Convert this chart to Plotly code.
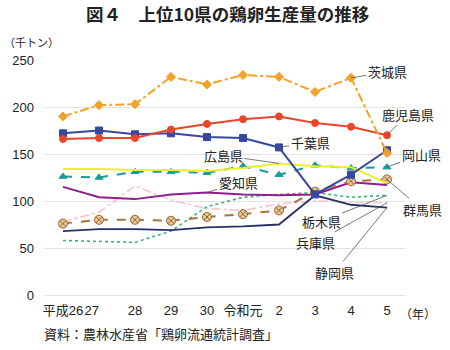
import plotly.graph_objects as go

years = ["平成26", "27", "28", "29", "30", "令和元", "2", "3", "4", "5"]

ibaraki   = [190, 202, 203, 232, 224, 234, 232, 216, 231, 151]
kagoshima = [166, 167, 167, 176, 182, 187, 190, 183, 179, 170]
chiba     = [172, 175, 171, 172, 168, 167, 157, 107, 128, 154]
okayama   = [126, 125, 131, 131, 130, 137, 128, 138, 135, 136]
hiroshima = [134, 134, 133, 133, 132, 135, 140, 137, 136, 119]
aichi     = [115, 104, 102, 107, 109, 107, 106, 107, 120, 117]
gunma     = [76, 80, 80, 79, 83, 86, 90, 110, 121, 123]
tochigi   = [58, 57, 56, 68, 94, 104, 107, 109, 104, 106]
hyogo     = [78, 88, 116, 101, 92, 90, 97, 100, 99, 98]
shizuoka  = [68, 70, 70, 69, 72, 73, 75, 106, 96, 93]

tick_text = ["平成26", "27\u00a0\u00a0\u00a0\u00a0", "28", "29", "30",
             "令和元", "2", "3", "4", "5"]

FONT = "Liberation Sans, Noto Sans CJK JP, sans-serif"
JFONT = "Noto Sans CJK JP, sans-serif"

fig = go.Figure()

def add(name, vals, color, dash="solid", width=2, symbol=None, msize=7,
        mfill=None, mline=None):
    mode = "lines+markers" if symbol else "lines"
    marker = {}
    if symbol:
        marker = dict(symbol=symbol, size=msize, color=mfill or color,
                      line=dict(color=mline or color, width=1))
    fig.add_trace(go.Scatter(x=years, y=vals, name=name, mode=mode,
                             line=dict(color=color, dash=dash, width=width),
                             marker=marker))

add("兵庫県", hyogo, "#F6C4CC", dash="dashdot", width=1.6)
add("栃木県", tochigi, "#3CB371", dash="dot", width=1.6)
add("静岡県", shizuoka, "#27306A", width=1.8)
add("愛知県", aichi, "#8E1E8E", width=2)
add("群馬県", gunma, "#A8743C", dash="dash", width=2, symbol="circle-x",
    msize=9, mfill="#E6C79A", mline="#9A6630")
add("岡山県", okayama, "#1C9A9A", dash="dash", width=2, symbol="triangle-up", msize=7)
add("広島県", hiroshima, "#EEEE2A", width=2)
add("千葉県", chiba, "#3848A0", width=2, symbol="square", msize=7)
add("鹿児島県", kagoshima, "#E8462A", width=2, symbol="circle", msize=7)
add("茨城県", ibaraki, "#F2A22A", dash="dashdot", width=2, symbol="diamond", msize=7)

# leader-line labels: (text, index, value, dx px, dy px)
labels = [
    ("茨城県", 8, ibaraki[8], 36, -6),
    ("鹿児島県", 9, kagoshima[9], 21, -21),
    ("千葉県", 6, chiba[6], 31, -5),
    ("広島県", 6, hiroshima[6], -56, -8),
    ("愛知県", 4, aichi[4], 31, -10),
    ("岡山県", 9, okayama[9], 34, -13),
    ("群馬県", 9, gunma[9], 35, 30),
    ("栃木県", 9, tochigi[9], -66, 26),
    ("兵庫県", 9, hyogo[9], -72, 40),
    ("静岡県", 9, shizuoka[9], -53, 65),
]
for txt, i, v, dx, dy in labels:
    fig.add_annotation(x=i, y=v, xref="x", yref="y", text=txt,
                       showarrow=True, arrowhead=0, arrowwidth=0.8,
                       arrowcolor="#555555", ax=dx, ay=dy, standoff=0,
                       font=dict(size=13, color="#222222", family=JFONT))

W, H = 450, 350
ml, mr, mt, mb = 45, 45, 60, 55
PW, PH = W - ml - mr, H - mt - mb

def px2paper(px, py):
    return (px - ml) / PW, 1 - (py - mt) / PH

def paper_text(text, px, py, size, xanchor="left", family=JFONT):
    x, y = px2paper(px, py)
    fig.add_annotation(x=x, y=y, xref="paper", yref="paper", text=text,
                       showarrow=False, xanchor=xanchor, yanchor="middle",
                       font=dict(size=size, color="#222222", family=family))

paper_text("<b>図４　上位10県の鶏卵生産量の推移</b>", 227, 14, 17.5, xanchor="center")
paper_text("（千トン）", 2, 42, 11)
paper_text("（年）", 398, 313, 12)
paper_text("資料：農林水産省「鶏卵流通統計調査」", 42, 333, 13)

fig.update_layout(
    width=W, height=H,
    margin=dict(l=ml, r=mr, t=mt, b=mb, pad=0),
    paper_bgcolor="white", plot_bgcolor="white",
    showlegend=False,
    font=dict(family=FONT, color="#222222", size=13),
    xaxis=dict(type="category", categoryorder="array", categoryarray=years,
               tickvals=years, ticktext=tick_text, range=[-0.5, 9.5],
               tickangle=0,
               showgrid=False, showline=False, zeroline=False, ticks="",
               ticklabelstandoff=6, tickfont=dict(size=13, family=FONT)),
    yaxis=dict(range=[0, 250], tickvals=[0, 50, 100, 150, 200, 250],
               showgrid=True, gridcolor="#e3e3e3", gridwidth=1,
               zeroline=True, zerolinecolor="#e3e3e3", zerolinewidth=1,
               showline=False, ticks="", ticklabelstandoff=10,
               tickfont=dict(size=13, family=FONT)),
)

fig.write_html("out.html")
